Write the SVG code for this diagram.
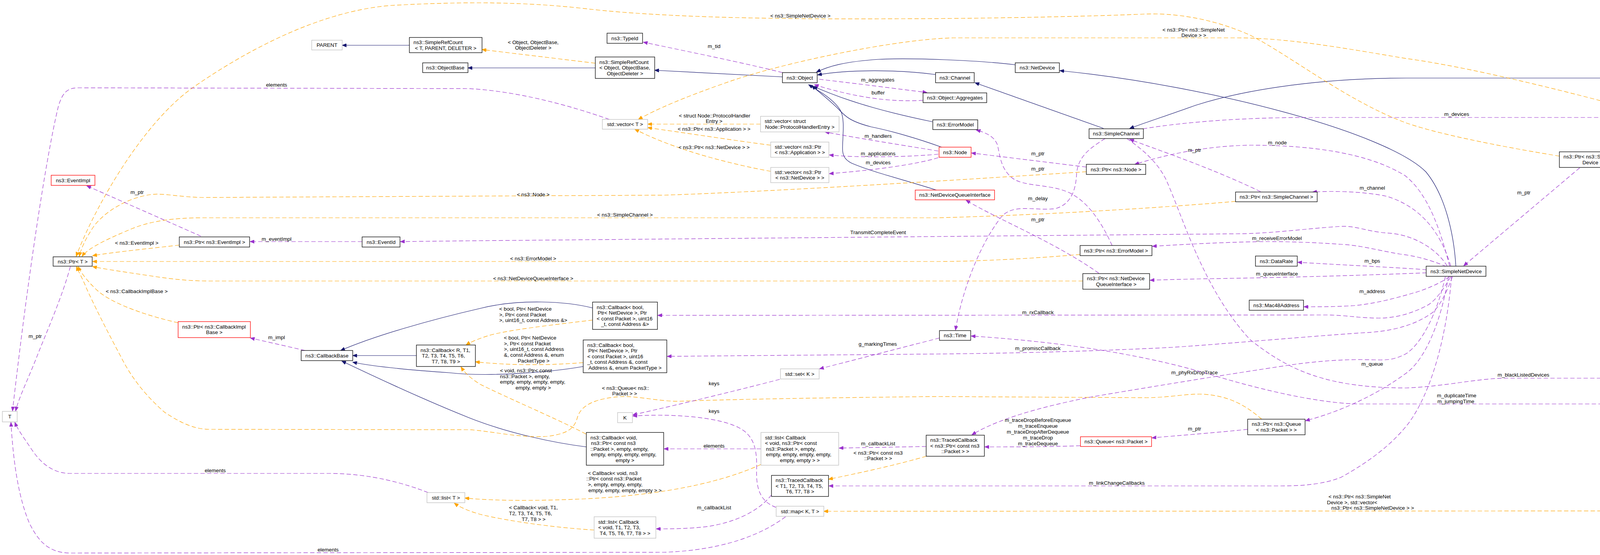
<svg xmlns="http://www.w3.org/2000/svg" width="4800" height="1422" viewBox="0 0 4800 1422">
<style>
rect{fill:#fff;stroke:#000;stroke-width:1.3}
.g rect{stroke:#bfbfbf}
.r rect{stroke:#ff0000}
.sel rect{fill:#bfbfbf}
text{font-family:"Liberation Sans",Arial,sans-serif;font-size:13.33px;fill:#000}
.m{text-anchor:middle}
path{fill:none;stroke-width:1.2}
.ei{stroke:#191970;marker-end:url(#ab)}
.eu{stroke:#9a32cd;stroke-dasharray:11,6;marker-end:url(#ap)}
.et{stroke:#ffa500;stroke-dasharray:11,6;marker-end:url(#ao)}
</style>
<defs>
<marker id="ab" markerUnits="userSpaceOnUse" markerWidth="12" markerHeight="9" refX="11" refY="4.5" orient="auto"><path d="M0,0 L11,4.5 L0,9 z" style="fill:#191970;stroke:#191970;stroke-width:1"/></marker>
<marker id="ap" markerUnits="userSpaceOnUse" markerWidth="12" markerHeight="9" refX="11" refY="4.5" orient="auto"><path d="M0,0 L11,4.5 L0,9 z" style="fill:#9a32cd;stroke:#9a32cd;stroke-width:1"/></marker>
<marker id="ao" markerUnits="userSpaceOnUse" markerWidth="12" markerHeight="9" refX="11" refY="4.5" orient="auto"><path d="M0,0 L11,4.5 L0,9 z" style="fill:#ffa500;stroke:#ffa500;stroke-width:1"/></marker>
</defs>
<rect x="0" y="0" width="4800" height="1422" style="fill:#fff;stroke:none"/>
<g id="connectors">
<path class="ei" d="M1048,116 L876,116"/>
<path class="ei" d="M1524,174 L1198,174"/>
<path class="ei" d="M2003,197 L1676,180"/>
<path class="ei" d="M2599,166 C2500,154 2330,148 2250,152 C2160,158 2120,170 2090,185"/>
<path class="ei" d="M2395,191 C2300,178 2170,178 2093,192"/>
<path class="ei" d="M2387,312 C2290,292 2180,265 2082,221"/>
<path class="ei" d="M2413,378 C2350,355 2280,335 2230,325 C2180,312 2165,300 2147,280 C2125,258 2100,238 2078,220"/>
<path class="ei" d="M2397,487 C2330,465 2230,440 2180,418 C2160,408 2156,395 2157,375 C2158,340 2163,300 2150,280 C2130,252 2100,235 2070,217"/>
<path class="ei" d="M2825,329 L2496,212"/>
<path class="ei" d="M3727,682 C3722,600 3700,500 3650,440 C3550,340 3100,220 2713,181"/>
<path class="ei" d="M4670,360 C4610,260 4500,200 4380,200 L3600,200 C3400,200 3200,225 3060,270 C2990,295 2930,315 2892,329"/>
<path class="ei" d="M1066,911 L903,911"/>
<path class="ei" d="M1517,789 C1450,772 1330,765 1230,790 C1100,820 960,860 872,898"/>
<path class="ei" d="M1493,939 C1400,955 1250,966 1150,955 C1050,948 960,940 903,928"/>
<path class="ei" d="M1501,1145 C1420,1135 1300,1110 1200,1070 C1100,1030 990,980 875,925"/>
<path class="et" d="M1524,162 L1234,127"/>
<path class="et" d="M1947,318 L1658,318"/>
<path class="et" d="M1973,372 C1880,360 1750,340 1658,327"/>
<path class="et" d="M1973,439 C1870,420 1730,385 1625,331"/>
<path class="et" d="M4331,351 C4300,318 4270,305 4227,293 C4000,230 3750,170 3600,150 C3450,125 3300,97 3165,97 L2440,97 C2300,100 2000,160 1850,215 C1750,250 1680,280 1634,306"/>
<path class="et" d="M3992,400 C3900,385 3700,350 3600,315 C3450,260 3300,140 3200,90 C3100,45 3000,33 2930,36 C2800,42 2500,48 2300,48 C2000,50 1700,45 1506,23 C1350,5 1200,3 1000,14 C800,30 600,150 490,227 C350,330 230,560 195,657"/>
<path class="et" d="M2781,440 C2500,458 2000,490 1700,500 L520,506 C460,505 420,495 390,498 C330,505 270,540 240,580 C220,610 208,635 203,657"/>
<path class="et" d="M3163,516 C3000,530 2700,550 2400,558 L520,558 C450,558 390,565 340,585 C280,610 225,635 210,657"/>
<path class="et" d="M459,628 C380,637 300,645 237,655"/>
<path class="et" d="M2765,652 C2650,662 2500,670 2400,670 L237,670"/>
<path class="et" d="M2772,720 L536,720 C470,720 420,712 380,706 C320,697 270,690 237,683"/>
<path class="et" d="M456,827 C380,810 290,780 250,745 C225,722 208,700 200,683"/>
<path class="et" d="M3230,1074 C3190,1040 3150,1015 3081,1010 C3040,1008 3000,1018 2936,1019 L2400,1016 C2200,1018 1900,1022 1740,1028 C1680,1029 1620,1010 1570,1018 C1510,1025 1485,1045 1478,1070 C1470,1100 1450,1112 1400,1118 C1330,1123 1250,1103 1200,1101 L536,1100 C490,1100 450,1075 421,1056 C380,1020 340,975 310,915 C270,840 240,780 222,740 C210,710 200,695 196,683"/>
<path class="et" d="M1517,820 C1420,832 1300,845 1250,860 C1225,868 1205,876 1193,884"/>
<path class="et" d="M1493,929 C1400,937 1300,936 1217,927"/>
<path class="et" d="M1500,1112 C1430,1075 1300,1020 1230,985 C1205,970 1190,955 1180,940"/>
<path class="et" d="M1948,1190 C1850,1235 1700,1268 1500,1278 C1350,1285 1250,1282 1190,1276"/>
<path class="et" d="M1521,1358 C1420,1352 1300,1335 1230,1318 C1195,1308 1175,1298 1163,1289"/>
<path class="et" d="M2371,1169 C2300,1190 2200,1212 2121,1228"/>
<path class="et" d="M4675,911 C4665,1000 4640,1100 4595,1164 C4560,1215 4500,1290 4400,1305 C4380,1308 4370,1309 4340,1309 L2109,1310"/>
<path class="eu" d="M2003,186 C1900,160 1750,130 1647,108"/>
<path class="eu" d="M2097,203 C2200,215 2300,228 2373,237"/>
<path class="eu" d="M2363,257 C2280,262 2190,250 2085,217"/>
<path class="eu" d="M2402,387 C2330,375 2200,355 2112,338"/>
<path class="eu" d="M2402,395 C2330,402 2200,405 2123,397"/>
<path class="eu" d="M2402,404 C2350,420 2250,435 2123,445"/>
<path class="eu" d="M1560,306 C1500,285 1350,235 1200,227 L200,225 C170,225 160,240 150,270 C118,400 70,720 32,1053"/>
<path class="eu" d="M180,683 C160,760 115,860 92,920 C68,980 48,1020 40,1053"/>
<path class="eu" d="M1096,1262 C1040,1240 950,1213 842,1213 L180,1213 C130,1213 100,1180 80,1150 C60,1120 45,1100 38,1082"/>
<path class="eu" d="M2011,1324 C1950,1370 1850,1410 1700,1415 L180,1417 C120,1417 95,1380 75,1340 C50,1280 35,1200 28,1082"/>
<path class="eu" d="M1996,972 C1850,1010 1700,1045 1620,1063"/>
<path class="eu" d="M1987,1300 C1945,1285 1935,1250 1937,1200 C1938,1150 1930,1115 1890,1095 C1830,1065 1700,1060 1620,1066"/>
<path class="eu" d="M2405,866 L2098,945"/>
<path class="eu" d="M1948,1150 L1700,1150"/>
<path class="eu" d="M2371,1144 L2148,1148"/>
<path class="eu" d="M1975,1268 C1950,1300 1900,1335 1812,1349 C1760,1355 1720,1355 1680,1355"/>
<path class="eu" d="M514,605 L222,476"/>
<path class="eu" d="M927,619 L640,619"/>
<path class="eu" d="M781,898 L641,866"/>
<path class="eu" d="M2781,428 L2487,392"/>
<path class="eu" d="M2847,629 C2825,580 2790,520 2740,495 C2690,470 2620,480 2590,455 C2560,430 2560,395 2553,370 C2545,350 2525,340 2499,333"/>
<path class="eu" d="M2813,700 C2700,620 2550,560 2473,513"/>
<path class="eu" d="M2829,355 C2790,380 2760,400 2756,446 C2754,490 2740,525 2700,535 C2640,540 2590,520 2560,560 C2500,640 2460,760 2446,846"/>
<path class="eu" d="M2926,330 C3050,310 3200,301 3350,301 L4097,301 C4170,301 4240,320 4304,351"/>
<path class="eu" d="M2885,355 C2920,380 2960,410 2985,460 C3030,560 3080,740 3200,870 C3300,950 3400,994 3600,994 C3700,990 3780,970 3850,969 L4365,969 C4450,965 4540,940 4600,912"/>
<path class="eu" d="M4622,373 L4459,373"/>
<path class="eu" d="M4679,385 C4660,500 4600,700 4560,800 C4520,900 4470,1035 4373,1035 L3470,1035 C3350,1030 3200,990 3100,960 C2950,915 2750,878 2486,861"/>
<path class="eu" d="M4044,430 L3747,681"/>
<path class="eu" d="M4268,385 L4163,397"/>
<path class="eu" d="M4637,843 C4560,780 4300,580 4111,430"/>
<path class="eu" d="M4660,843 C4620,770 4450,500 4381,394"/>
<path class="eu" d="M3711,682 C3690,600 3660,500 3597,450 C3500,390 3350,372 3200,372 C3080,374 2980,398 2905,421"/>
<path class="eu" d="M3714,682 C3690,600 3640,530 3550,503 C3500,492 3420,488 3360,492"/>
<path class="eu" d="M3705,682 C3680,640 3620,600 3550,597 C3500,593 3470,578 3433,580 C3350,585 3250,599 3165,599 L1200,617 L1025,619"/>
<path class="eu" d="M3703,683 C3660,665 3620,655 3584,651 C3520,640 3480,628 3433,626 C3350,620 3280,619 3242,619 C3150,620 3050,625 2950,631"/>
<path class="eu" d="M3652,691 C3550,684 3420,678 3322,672"/>
<path class="eu" d="M3652,699 C3500,705 3300,711 3100,714 C3050,715 3000,716 2944,718"/>
<path class="eu" d="M3711,709 C3680,730 3640,745 3617,751 C3560,768 3500,782 3450,784 C3410,786 3380,786 3338,786"/>
<path class="eu" d="M3714,709 C3690,750 3670,775 3651,784 C3610,805 3570,815 3530,815 C3480,815 3450,808 3400,807 L1684,808"/>
<path class="eu" d="M3718,709 C3700,760 3680,790 3667,801 C3620,835 3560,850 3483,853 C3350,862 3150,880 3000,890 C2800,900 2600,905 2400,907 L1708,913"/>
<path class="eu" d="M3700,709 C3680,800 3640,880 3600,906 C3570,922 3550,923 3520,922 C3470,921 3420,920 3318,933 C3200,950 2950,990 2783,1019 C2680,1040 2560,1070 2488,1114"/>
<path class="eu" d="M3708,709 C3690,820 3650,920 3600,956 C3540,1000 3450,1050 3342,1078"/>
<path class="eu" d="M3716,709 C3700,900 3650,1030 3600,1092 C3560,1140 3510,1180 3433,1223 C3390,1240 3340,1245 3280,1245 L2122,1245"/>
<path class="eu" d="M3227,491 C3100,430 2980,390 2892,357"/>
<path class="eu" d="M3194,1100 C3100,1110 3000,1117 2949,1122"/>
<path class="eu" d="M2766,1142 C2680,1145 2600,1145 2521,1145"/>
</g>
<g id="edge-labels">
<text x="1300" y="112.5">&lt; Object, ObjectBase,</text><text class="m" x="1365" y="127">ObjectDeleter &gt;</text>
<text class="m" x="1828" y="122.5">m_tid</text>
<text class="m" x="2247" y="208.5">m_aggregates</text>
<text class="m" x="2248" y="241.5">buffer</text>
<text class="m" x="708" y="221.5">elements</text>
<text x="1738" y="300.5">&lt; struct Node::ProtocolHandler</text><text class="m" x="1828" y="314.5">Entry &gt;</text>
<text class="m" x="1828" y="334.5">&lt; ns3::Ptr&lt; ns3::Application &gt; &gt;</text>
<text class="m" x="1828" y="381.5">&lt; ns3::Ptr&lt; ns3::NetDevice &gt; &gt;</text>
<text class="m" x="2248" y="352.5">m_handlers</text>
<text class="m" x="2248" y="397.5">m_applications</text>
<text class="m" x="2248" y="420.5">m_devices</text>
<text class="m" x="2049" y="44.5">&lt; ns3::SimpleNetDevice &gt;</text>
<text x="2976" y="80.5">&lt; ns3::Ptr&lt; ns3::SimpleNet</text><text class="m" x="3056" y="94.5">Device &gt; &gt;</text>
<text class="m" x="3729" y="296.5">m_devices</text>
<text class="m" x="4518" y="369.5">m_devices</text>
<text class="m" x="4218" y="384.5">elements</text>
<text class="m" x="3901" y="497.5">m_ptr</text>
<text class="m" x="4365" y="554.5">keys</text>
<text class="m" x="4519" y="561.5">elements</text>
<text class="m" x="351" y="496.5">m_ptr</text>
<text class="m" x="1365" y="502.5">&lt; ns3::Node &gt;</text>
<text class="m" x="1600" y="554.5">&lt; ns3::SimpleChannel &gt;</text>
<text class="m" x="350" y="626.5">&lt; ns3::EventImpl &gt;</text>
<text class="m" x="708" y="616.5">m_eventImpl</text>
<text class="m" x="2248" y="599.5">TransmitCompleteEvent</text>
<text class="m" x="1365" y="666.5">&lt; ns3::ErrorModel &gt;</text>
<text class="m" x="1365" y="717.5">&lt; ns3::NetDeviceQueueInterface &gt;</text>
<text class="m" x="2657" y="397.5">m_ptr</text>
<text class="m" x="2657" y="436.5">m_ptr</text>
<text class="m" x="2657" y="512.5">m_delay</text>
<text class="m" x="2657" y="566.5">m_ptr</text>
<text class="m" x="3270" y="369.5">m_node</text>
<text class="m" x="3058" y="388.5">m_ptr</text>
<text class="m" x="3513" y="485.5">m_channel</text>
<text class="m" x="3269" y="614.5">m_receiveErrorModel</text>
<text class="m" x="3513" y="672.5">m_bps</text>
<text class="m" x="3269" y="705.5">m_queueInterface</text>
<text class="m" x="350" y="750.5">&lt; ns3::CallbackImplBase &gt;</text>
<text class="m" x="708" y="868.5">m_impl</text>
<text class="m" x="90" y="865.5">m_ptr</text>
<text class="m" x="3513" y="750.5">m_address</text>
<text class="m" x="2657" y="804.5">m_rxCallback</text>
<text class="m" x="2657" y="896.5">m_promiscCallback</text>
<text class="m" x="3513" y="936.5">m_queue</text>
<text class="m" x="3058" y="958.5">m_phyRxDropTrace</text>
<text class="m" x="2247" y="885.5">g_markingTimes</text>
<text class="m" x="1828" y="986.5">keys</text>
<text class="m" x="1828" y="1057.5">keys</text>
<text x="1541" y="998.5">&lt; ns3::Queue&lt; ns3::</text><text class="m" x="1599" y="1012.5">Packet &gt; &gt;</text>
<text x="1278" y="795.5">&lt; bool, Ptr&lt; NetDevice</text><text x="1278" y="810.5">&gt;, Ptr&lt; const Packet</text><text class="m" x="1365" y="824.5">&gt;, uint16_t, const Address &amp;&gt;</text>
<text x="1290" y="869.5">&lt; bool, Ptr&lt; NetDevice</text><text x="1290" y="884.5">&gt;, Ptr&lt; const Packet</text><text x="1290" y="898.5">&gt;, uint16_t, const Address</text><text x="1290" y="913.5">&amp;, const Address &amp;, enum</text><text class="m" x="1366" y="928.5">PacketType &gt;</text>
<text x="1280" y="953.5">&lt; void, ns3::Ptr&lt; const</text><text x="1280" y="968.5">ns3::Packet &gt;, empty,</text><text x="1280" y="982.5">empty, empty, empty, empty,</text><text class="m" x="1365" y="997.5">empty, empty &gt;</text>
<text class="m" x="1828" y="1146.5">elements</text>
<text class="m" x="2248" y="1140.5">m_callbackList</text>
<text x="2185" y="1164.5">&lt; ns3::Ptr&lt; const ns3</text><text class="m" x="2248" y="1178.5">::Packet &gt; &gt;</text>
<text class="m" x="3058" y="1102.5">m_ptr</text>
<text class="m" x="2657" y="1080.5">m_traceDropBeforeEnqueue</text>
<text class="m" x="2657" y="1095.5">m_traceEnqueue</text>
<text class="m" x="2657" y="1110.5">m_traceDropAfterDequeue</text>
<text class="m" x="2657" y="1125.5">m_traceDrop</text>
<text class="m" x="2657" y="1140.5">m_traceDequeue</text>
<text x="1505" y="1216.5">&lt; Callback&lt; void, ns3</text><text x="1501" y="1230.5">::Ptr&lt; const ns3::Packet</text><text x="1505" y="1245.5">&gt;, empty, empty, empty,</text><text class="m" x="1600" y="1260.5">empty, empty, empty, empty &gt; &gt;</text>
<text class="m" x="551" y="1209.5">elements</text>
<text class="m" x="2859" y="1241.5">m_linkChangeCallbacks</text>
<text x="1303" y="1304.5">&lt; Callback&lt; void, T1,</text><text x="1303" y="1319.5">T2, T3, T4, T5, T6,</text><text class="m" x="1366" y="1334.5">T7, T8 &gt; &gt;</text>
<text class="m" x="1828" y="1304.5">m_callbackList</text>
<text x="3401" y="1276.5">&lt; ns3::Ptr&lt; ns3::SimpleNet</text><text x="3397" y="1291.5">Device &gt;, std::vector&lt;</text><text class="m" x="3514" y="1305.5"> ns3::Ptr&lt; ns3::SimpleNetDevice &gt; &gt;</text>
<text class="m" x="3900" y="964.5">m_blackListedDevices</text>
<text class="m" x="3729" y="1017.5">m_duplicateTime</text>
<text class="m" x="3727" y="1032.5">m_jumpingTime</text>
<text class="m" x="840" y="1412.5">elements</text>
</g>
<g id="n-parent" class="g"><rect x="798" y="103" width="78" height="25"/><text class="m" x="837" y="120">PARENT</text></g>
<g id="n-srct"><rect x="1048" y="96" width="186" height="39"/><text x="1058.5" y="113">ns3::SimpleRefCount</text><text class="m" x="1141" y="127.5">&lt; T, PARENT, DELETER &gt;</text></g>
<g id="n-objectbase"><rect x="1082" y="161" width="116" height="25"/><text class="m" x="1140" y="178">ns3::ObjectBase</text></g>
<g id="n-typeid"><rect x="1554" y="85" width="91" height="26"/><text class="m" x="1599.5" y="102.5">ns3::TypeId</text></g>
<g id="n-srcobj"><rect x="1524" y="146" width="152" height="55"/><text x="1534.5" y="163.5">ns3::SimpleRefCount</text><text x="1534.5" y="178">&lt; Object, ObjectBase,</text><text class="m" x="1600" y="192.5">ObjectDeleter &gt;</text></g>
<g id="n-object"><rect x="2003" y="186" width="89" height="26"/><text class="m" x="2047.5" y="203.5">ns3::Object</text></g>
<g id="n-aggregates"><rect x="2363" y="238" width="163" height="25"/><text class="m" x="2444.5" y="255">ns3::Object::Aggregates</text></g>
<g id="n-channel"><rect x="2395" y="186" width="99" height="26"/><text class="m" x="2444.5" y="203.5">ns3::Channel</text></g>
<g id="n-netdevice"><rect x="2599" y="161" width="113" height="25"/><text class="m" x="2655.5" y="178">ns3::NetDevice</text></g>
<g id="n-vectort" class="g"><rect x="1542" y="306" width="116" height="25"/><text class="m" x="1600" y="323">std::vector&lt; T &gt;</text></g>
<g id="n-vecphe" class="g"><rect x="1947" y="298" width="201" height="40"/><text x="1957.5" y="315.3">std::vector&lt; struct</text><text class="m" x="2047.5" y="329.8">Node::ProtocolHandlerEntry &gt;</text></g>
<g id="n-vecapp" class="g"><rect x="1973" y="364" width="149" height="39"/><text x="1983.5" y="380.8">std::vector&lt; ns3::Ptr</text><text class="m" x="2047.5" y="395.3">&lt; ns3::Application &gt; &gt;</text></g>
<g id="n-vecnd" class="g"><rect x="1973" y="429" width="149" height="39"/><text x="1983.5" y="445.8">std::vector&lt; ns3::Ptr</text><text class="m" x="2047.5" y="460.3">&lt; ns3::NetDevice &gt; &gt;</text></g>
<g id="n-errormodel"><rect x="2388" y="307" width="115" height="25"/><text class="m" x="2445.5" y="324">ns3::ErrorModel</text></g>
<g id="n-node" class="r"><rect x="2404" y="377" width="82" height="26"/><text class="m" x="2445" y="394.5">ns3::Node</text></g>
<g id="n-simplechannel"><rect x="2788" y="330" width="139" height="25"/><text class="m" x="2857.5" y="347">ns3::SimpleChannel</text></g>
<g id="n-ptrnode"><rect x="2781" y="421" width="152" height="26"/><text class="m" x="2857" y="438.5">ns3::Ptr&lt; ns3::Node &gt;</text></g>
<g id="n-nqi" class="r"><rect x="2343" y="487" width="203" height="25"/><text class="m" x="2444.5" y="504">ns3::NetDeviceQueueInterface</text></g>
<g id="n-ptrsc"><rect x="3163" y="492" width="209" height="25"/><text class="m" x="3267.5" y="509">ns3::Ptr&lt; ns3::SimpleChannel &gt;</text></g>
<g id="n-ptrem"><rect x="2765" y="629" width="184" height="26"/><text class="m" x="2857" y="646.5">ns3::Ptr&lt; ns3::ErrorModel &gt;</text></g>
<g id="n-datarate"><rect x="3214" y="656" width="107" height="26"/><text class="m" x="3267.5" y="673.5">ns3::DataRate</text></g>
<g id="n-ptrnqi"><rect x="2772" y="701" width="171" height="40"/><text x="2782.5" y="718.3">ns3::Ptr&lt; ns3::NetDevice</text><text class="m" x="2857.5" y="732.8">QueueInterface &gt;</text></g>
<g id="n-vecsnd" class="g"><rect x="4269" y="352" width="189" height="41"/><text x="4279.5" y="369.8">std::vector&lt; ns3::Ptr</text><text class="m" x="4363.5" y="384.3">&lt; ns3::SimpleNetDevice &gt; &gt;</text></g>
<g id="n-errorchannel" class="sel"><rect x="4622" y="360" width="127" height="25"/><text class="m" x="4685.5" y="377">ns3::ErrorChannel</text></g>
<g id="n-ptrsnd"><rect x="3992" y="389" width="170" height="40"/><text x="4002.5" y="406.3">ns3::Ptr&lt; ns3::SimpleNet</text><text class="m" x="4077" y="420.8">Device &gt;</text></g>
<g id="n-snd"><rect x="3651" y="682" width="153" height="26"/><text class="m" x="3727.5" y="699.5">ns3::SimpleNetDevice</text></g>
<g id="n-eventimpl" class="r"><rect x="131" y="449" width="112" height="26"/><text class="m" x="187" y="466.5">ns3::EventImpl</text></g>
<g id="n-ptrei"><rect x="459" y="607" width="180" height="26"/><text class="m" x="549" y="624.5">ns3::Ptr&lt; ns3::EventImpl &gt;</text></g>
<g id="n-eventid"><rect x="927" y="607" width="97" height="26"/><text class="m" x="975.5" y="624.5">ns3::EventId</text></g>
<g id="n-ptrt"><rect x="136" y="658" width="100" height="24"/><text class="m" x="186" y="674.5">ns3::Ptr&lt; T &gt;</text></g>
<g id="n-ptrcib" class="r"><rect x="456" y="824" width="185" height="41"/><text x="466.5" y="841.8">ns3::Ptr&lt; ns3::CallbackImpl</text><text class="m" x="548.5" y="856.3">Base &gt;</text></g>
<g id="n-callbackbase"><rect x="771" y="898" width="132" height="26"/><text class="m" x="837" y="915.5">ns3::CallbackBase</text></g>
<g id="n-callbackr"><rect x="1066" y="884" width="151" height="55"/><text x="1076.5" y="901.5">ns3::Callback&lt; R, T1,</text><text x="1080" y="916"> T2, T3, T4, T5, T6,</text><text class="m" x="1141.5" y="930.5">T7, T8, T9 &gt;</text></g>
<g id="n-t" class="g"><rect x="6" y="1054" width="38" height="27"/><text class="m" x="25" y="1072">T</text></g>
<g id="n-listt" class="g"><rect x="1093" y="1262" width="97" height="26"/><text class="m" x="1141.5" y="1279.5">std::list&lt; T &gt;</text></g>
<g id="n-cbbooladdr"><rect x="1517" y="774" width="166" height="70"/><text x="1527.5" y="791.8">ns3::Callback&lt; bool,</text><text x="1530" y="806.3">Ptr&lt; NetDevice &gt;, Ptr</text><text x="1527.5" y="820.8">&lt; const Packet &gt;, uint16</text><text class="m" x="1600" y="835.3">_t, const Address &amp;&gt;</text></g>
<g id="n-cbboolpt"><rect x="1493" y="871" width="214" height="84"/><text x="1503.5" y="888.5">ns3::Callback&lt; bool,</text><text x="1506" y="903">Ptr&lt; NetDevice &gt;, Ptr</text><text x="1503.5" y="917.5">&lt; const Packet &gt;, uint16</text><text x="1503.5" y="932">_t, const Address &amp;, const</text><text class="m" x="1600" y="946.5">Address &amp;, enum PacketType &gt;</text></g>
<g id="n-setk" class="g"><rect x="1998" y="945" width="99" height="26"/><text class="m" x="2047.5" y="962.5">std::set&lt; K &gt;</text></g>
<g id="n-k" class="g"><rect x="1581" y="1057" width="38" height="26"/><text class="m" x="1600" y="1074.5">K</text></g>
<g id="n-cbvoid"><rect x="1501" y="1108" width="198" height="84"/><text x="1511.5" y="1125.5">ns3::Callback&lt; void,</text><text x="1513" y="1140">ns3::Ptr&lt; const ns3</text><text x="1511.5" y="1154.5">::Packet &gt;, empty, empty,</text><text x="1513" y="1169">empty, empty, empty, empty,</text><text class="m" x="1600" y="1183.5">empty &gt;</text></g>
<g id="n-listcbvoid" class="g"><rect x="1948" y="1108" width="199" height="84"/><text x="1958.5" y="1125.5">std::list&lt; Callback</text><text x="1958.5" y="1140">&lt; void, ns3::Ptr&lt; const</text><text x="1961" y="1154.5">ns3::Packet &gt;, empty,</text><text x="1961" y="1169">empty, empty, empty, empty,</text><text class="m" x="2047.5" y="1183.5">empty, empty &gt; &gt;</text></g>
<g id="n-tcpkt"><rect x="2371" y="1115" width="149" height="54"/><text x="2381.5" y="1132">ns3::TracedCallback</text><text x="2381.5" y="1146.5">&lt; ns3::Ptr&lt; const ns3</text><text class="m" x="2445.5" y="1161">::Packet &gt; &gt;</text></g>
<g id="n-tct"><rect x="1975" y="1218" width="146" height="54"/><text x="1985.5" y="1235">ns3::TracedCallback</text><text x="1985.5" y="1249.5">&lt; T1, T2, T3, T4, T5,</text><text class="m" x="2048" y="1264">T6, T7, T8 &gt;</text></g>
<g id="n-mapkt" class="g"><rect x="1987" y="1297" width="122" height="26"/><text class="m" x="2048" y="1314.5">std::map&lt; K, T &gt;</text></g>
<g id="n-listcbt" class="g"><rect x="1521" y="1324" width="158" height="55"/><text x="1531.5" y="1341.5">std::list&lt; Callback</text><text x="1531.5" y="1356">&lt; void, T1, T2, T3,</text><text class="m" x="1600" y="1370.5">T4, T5, T6, T7, T8 &gt; &gt;</text></g>
<g id="n-mac48"><rect x="3198" y="769" width="139" height="26"/><text class="m" x="3267.5" y="786.5">ns3::Mac48Address</text></g>
<g id="n-time"><rect x="2405" y="847" width="80" height="25"/><text class="m" x="2445" y="864">ns3::Time</text></g>
<g id="n-ptrqueue"><rect x="3194" y="1074" width="147" height="40"/><text x="3204.5" y="1091.3">ns3::Ptr&lt; ns3::Queue</text><text class="m" x="3267.5" y="1105.8">&lt; ns3::Packet &gt; &gt;</text></g>
<g id="n-queue" class="r"><rect x="2766" y="1119" width="182" height="25"/><text class="m" x="2857" y="1136">ns3::Queue&lt; ns3::Packet &gt;</text></g>
<g id="n-mapsnd" class="g"><rect x="4577" y="843" width="217" height="68"/><text x="4587.5" y="859.8">std::map&lt; ns3::Ptr</text><text x="4587.5" y="874.3">&lt; ns3::SimpleNetDevice</text><text x="4587.5" y="888.8"> &gt;, std::vector&lt; ns3::</text><text class="m" x="4685.5" y="903.3">Ptr&lt; ns3::SimpleNetDevice &gt; &gt; &gt;</text></g>
</svg>
